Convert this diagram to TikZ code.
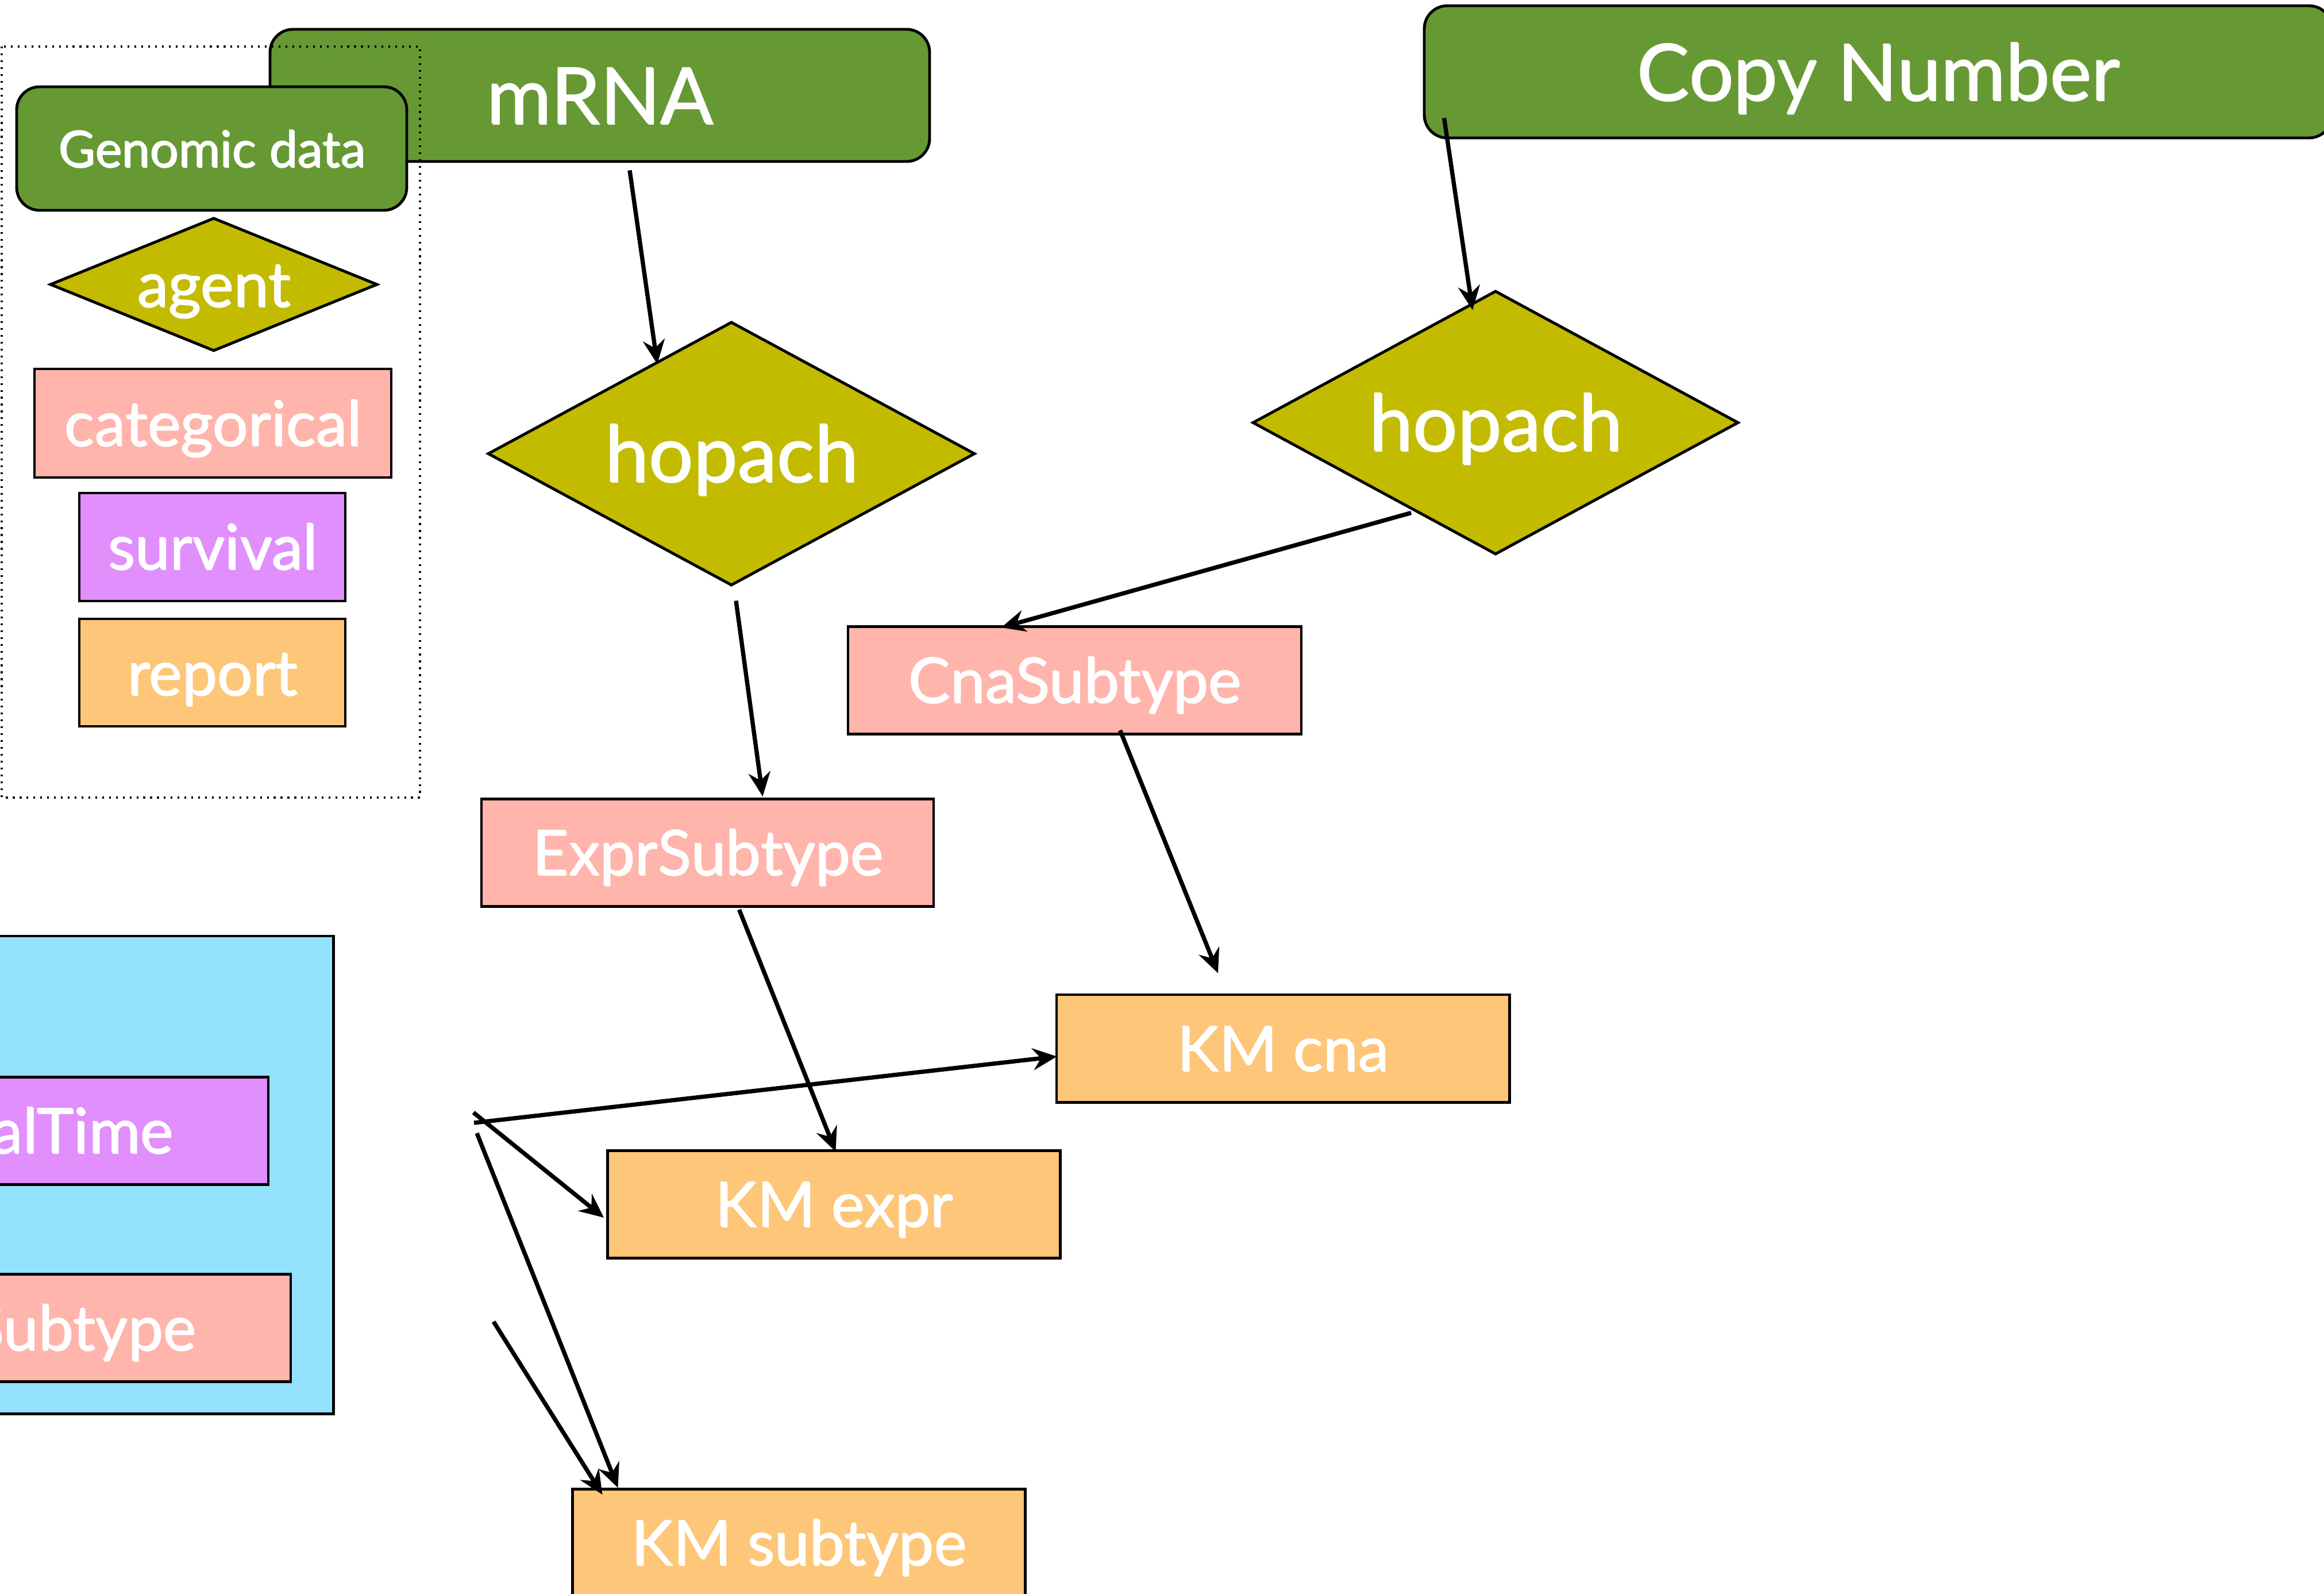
\documentclass[tikz,border=0pt]{standalone}
\usepackage{fontspec}
\setmainfont{Lato}
\usetikzlibrary{shapes.geometric,arrows.meta}

\definecolor{genomicgreen}{RGB}{102,153,51}
\definecolor{agentolive}{RGB}{194,187,0}
\definecolor{categoricalpink}{RGB}{255,180,172}
\definecolor{survivalviolet}{RGB}{224,143,252}
\definecolor{reportorange}{RGB}{254,198,120}
\definecolor{groupcyan}{RGB}{149,226,254}

\tikzset{
  box/.style={draw=black,line width=1.4pt,text=white,inner sep=0pt,
    execute at begin node={\setbox0=\hbox\bgroup},
    execute at end node={\egroup\rlap{\kern0.55pt\lower0.55pt\hbox{\color{black!30}\copy0}}\box0}},
  genomic/.style={box,fill=genomicgreen,rounded corners=4mm},
  agent/.style={box,diamond,shape aspect=1.85,fill=agentolive},
  categorical/.style={box,fill=categoricalpink,minimum height=1.87cm},
  survival/.style={box,fill=survivalviolet,minimum height=1.87cm},
  report/.style={box,fill=reportorange,minimum width=7.88cm,minimum height=1.87cm},
  big/.style={font=\fontsize{39}{46}\selectfont,text height=28pt,text depth=0pt},
  mid/.style={font=\fontsize{31}{37}\selectfont,text height=22pt,text depth=0pt},
  small/.style={font=\fontsize{25}{30}\selectfont,text height=18pt,text depth=0pt},
  flow/.style={line width=2.1pt,-{Stealth[length=4.2mm,width=3.8mm,inset=1.4mm]}},
  legendframe/.style={line width=0.9pt,dash pattern=on 0.9pt off 2.5pt},
}

\begin{document}
\begin{tikzpicture}
  \useasboundingbox (0,0) rectangle (40.45,-27.73);
  \clip (0,0) rectangle (40.45,-27.73);

  % survival inputs
  \node[box,fill=groupcyan,minimum width=11.81cm,minimum height=8.31cm] (group) at (-0.1,-20.445) {};
  \node[survival,mid,minimum width=9.44cm] (survtime) at (-0.05,-19.68) {SurvivalTime};
  \node[categorical,mid,minimum width=7.24cm] (subtype) at (1.44,-23.105) {Subtype};

  % genomic data
  \node[genomic,big,minimum width=11.48cm,minimum height=2.30cm] (mrna) at (10.44,-1.66) {mRNA};
  \node[genomic,big,minimum width=15.8cm,minimum height=2.30cm] (cn) at (32.69,-1.25) {Copy Number};

  % legend
  \draw[legendframe] (0.03,-0.81) rectangle (7.31,-13.88);
  \node[genomic,small,minimum width=6.79cm,minimum height=2.15cm] (genomickey) at (3.685,-2.585) {Genomic data};
  \node[agent,mid,shape aspect=2.46,minimum width=5.70cm,minimum height=2.32cm] (agentkey) at (3.72,-4.95) {agent};
  \node[categorical,mid,minimum width=6.21cm,minimum height=1.89cm] (categoricalkey) at (3.705,-7.365) {categorical};
  \node[survival,mid,minimum width=4.63cm,minimum height=1.88cm] (survivalkey) at (3.695,-9.52) {survival};
  \node[report,mid,minimum width=4.63cm] (reportkey) at (3.695,-11.705) {report};

  % agents and results
  \node[agent,big,minimum width=8.48cm,minimum height=4.59cm] (hopachexpr) at (12.73,-7.895) {hopach};
  \node[agent,big,minimum width=8.46cm,minimum height=4.59cm] (hopachcna) at (26.03,-7.355) {hopach};
  \node[categorical,mid,minimum width=7.87cm] (exprsub) at (12.315,-14.84) {ExprSubtype};
  \node[categorical,mid,minimum width=7.89cm] (cnasub) at (18.705,-11.84) {CnaSubtype};
  \node[report,mid] (kmcna) at (22.33,-18.245) {KM cna};
  \node[report,mid] (kmexpr) at (14.515,-20.96) {KM expr};
  \node[report,mid] (kmsub) at (13.905,-26.85) {KM subtype};

  \coordinate (survout) at (8.24,-19.36);
  \coordinate (survout2) at (8.25,-19.54);
  \coordinate (survout3) at (8.30,-19.72);
  \coordinate (subout) at (8.59,-23.00);

  \draw[flow] ([xshift=5.2mm,yshift=-1.3mm]mrna.south) -- ([xshift=-12.9mm,yshift=-7.6mm]hopachexpr.north);
  \draw[flow] ([xshift=0.8mm,yshift=-2.4mm]hopachexpr.south) -- ([xshift=9.6mm,yshift=0.2mm]exprsub.north);
  \draw[flow] ([xshift=3.7mm,yshift=3.7mm]cn.south west) -- ([xshift=-4mm,yshift=-3.6mm]hopachcna.north);
  \draw[flow] ([xshift=-14.7mm,yshift=7.5mm]hopachcna.south) -- ([xshift=-12.8mm,yshift=-0.4mm]cnasub.north);
  \draw[flow] ([xshift=7.9mm,yshift=0.9mm]cnasub.south) -- ([xshift=-11.3mm,yshift=3.5mm]kmcna.north);
  \draw[flow] ([xshift=5.5mm,yshift=-0.3mm]exprsub.south) -- ([xshift=0.3mm,yshift=-0.4mm]kmexpr.north);
  \draw[flow] (survout2) -- ([xshift=0.3mm,yshift=-1.4mm]kmcna.west);
  \draw[flow] (survout) -- ([xshift=-0.4mm,yshift=-2.3mm]kmexpr.west);
  \draw[flow] (survout3) -- ([xshift=-31.5mm]kmsub.north);
  \draw[flow] (subout) -- ([xshift=-34.2mm,yshift=-1.2mm]kmsub.north);
\end{tikzpicture}
\end{document}
